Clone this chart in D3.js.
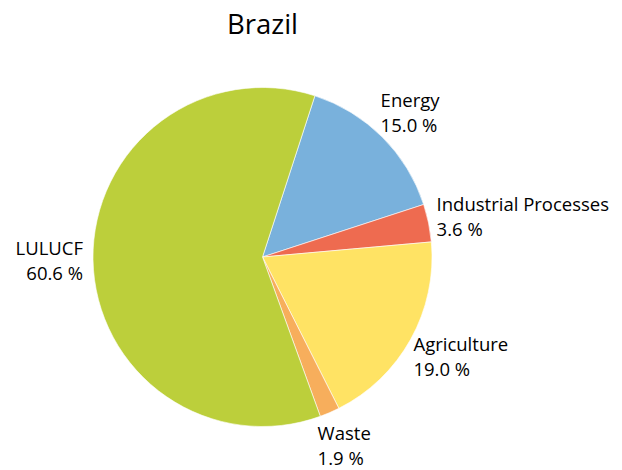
<!DOCTYPE html>
<html>
<head>
<meta charset="utf-8">
<script src="https://cdn.jsdelivr.net/npm/d3@7"></script>
<style>
  body { margin: 0; background: #fff; }
  text { font-family: "Open Sans", sans-serif; fill: #000; }
</style>
</head>
<body>
<div class="chart"></div>
<script>
var svgWidth = 622;
var svgHeight = 470;

// data
var title = "Brazil";
var sectors = ["Energy", "Industrial Processes", "Agriculture", "Waste", "LULUCF"];
var shares = [15.0, 3.6, 19.0, 1.9, 60.6];
var colors = ["#79b1dc", "#ee6b50", "#ffe364", "#f7ae5c", "#bccf3b"];

var cx = 262.5, cy = 257, radius = 169.5;

var svg = d3.select(".chart")
  .append("svg")
  .attr("width", svgWidth)
  .attr("height", svgHeight);

svg.append("text")
  .attr("x", cx)
  .attr("y", 34)
  .attr("text-anchor", "middle")
  .style("font-size", "27.5px")
  .text(title);

var chartGroup = svg.append("g")
  .attr("transform", `translate(${cx}, ${cy})`);

var pie = d3.pie()
  .sort(null)
  .startAngle(18 * Math.PI / 180)
  .endAngle(18 * Math.PI / 180 + 2 * Math.PI)
  .value(d => d);

var arc = d3.arc()
  .innerRadius(0)
  .outerRadius(radius);

var arcs = pie(shares);

chartGroup.selectAll("path")
  .data(arcs)
  .enter()
  .append("path")
  .attr("d", arc)
  .attr("fill", (d, i) => colors[i])
  .attr("stroke", "rgba(255,255,255,0.6)")
  .attr("stroke-width", 1);

// labels: box placed outside the circle, pushed along the slice direction
var lineH = 25;
var gap = 10;
var labels = chartGroup.selectAll("g.label")
  .data(arcs)
  .enter()
  .append("g")
  .attr("class", "label");

labels.each(function(d, i) {
  var g = d3.select(this);
  var mid = (d.startAngle + d.endAngle) / 2;
  var s = Math.sin(mid), c = -Math.cos(mid);
  var left = s < 0;
  var t = g.append("text")
    .attr("text-anchor", left ? "end" : "start")
    .style("font-size", "18.5px");
  t.append("tspan").attr("x", 0).attr("y", 0).text(sectors[i]);
  t.append("tspan").attr("x", 0).attr("y", lineH).text(d3.format(".1f")(d.data) + " %");
  var bb = t.node().getBBox();
  var w = bb.width, h = bb.height;
  var px = (radius + gap) * s, py = (radius + gap) * c;
  var bx = px + s * w / 2, by = py + c * h / 2;
  var tx = left ? bx + w / 2 : bx - w / 2;
  var ty = by - h / 2 - bb.y;
  t.attr("transform", `translate(${tx}, ${ty})`);
});
</script>
</body>
</html>
